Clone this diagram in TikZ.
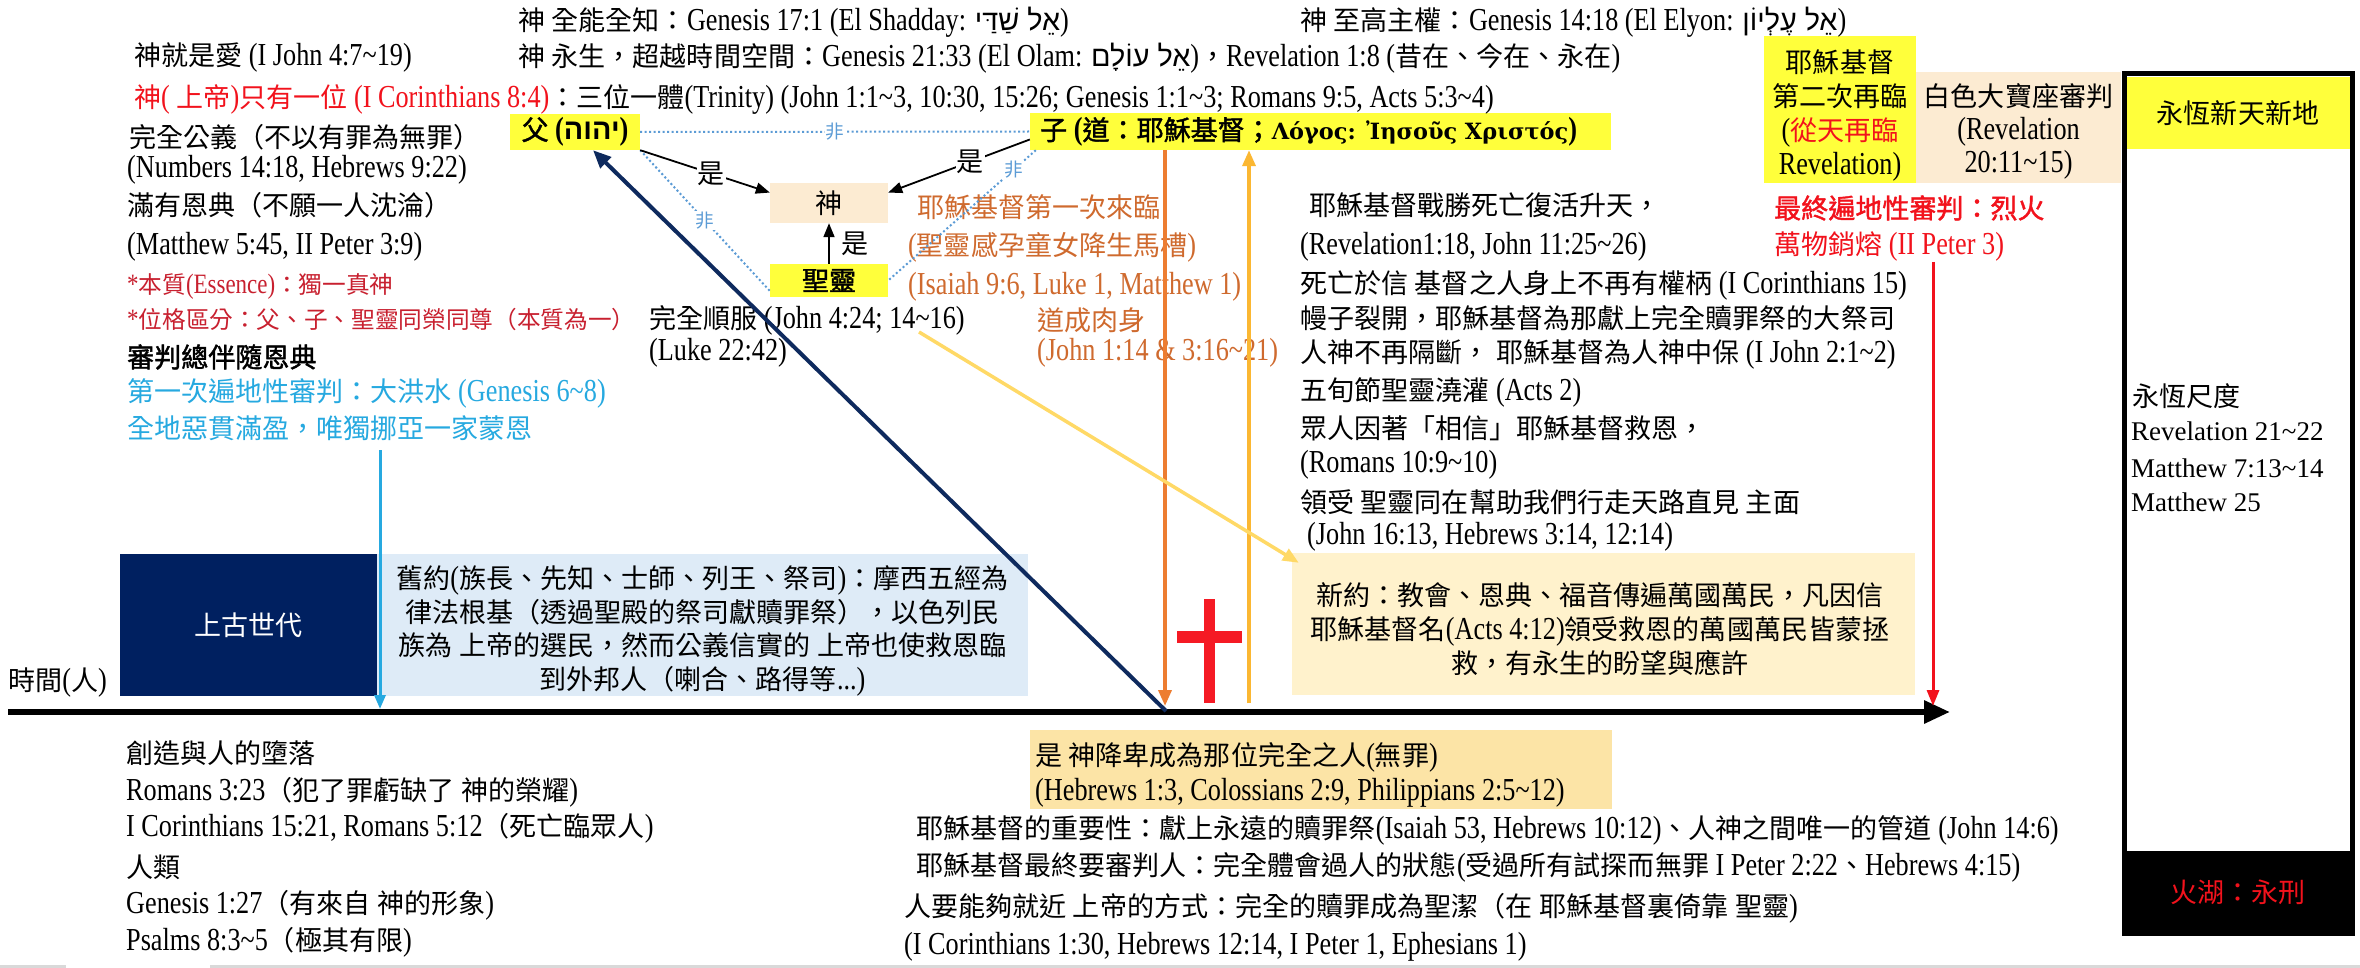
\documentclass[tikz,border=0pt]{standalone}
\usepackage{fontspec}
\usetikzlibrary{arrows.meta,calc}
\setmainfont{Liberation Serif}[FakeStretch=0.82]
\newfontfamily\cjkfont{Noto Sans CJK TC}[Scale=0.845,BoldFont={Noto Sans CJK TC},BoldFeatures={FakeBold=1.5}]
\newfontfamily\hebfont{Liberation Sans}[Script=Hebrew,Scale=0.9]
\newfontfamily\grkfont{DejaVu Serif}[Scale=0.7]
\newfontfamily\wideserif{Liberation Serif}
\TeXXeTstate=1
\makeatletter
\chardef\CJKcls=200
\def\setcjkrange#1#2{\count@=#1\relax\loop\XeTeXcharclass\count@=\CJKcls\advance\count@\@ne\ifnum\count@<#2\repeat}
\setcjkrange{"3000}{"3040}
\setcjkrange{"4E00}{"A000}
\setcjkrange{"FF00}{"FFF0}
\XeTeXinterchartokenstate=1
\XeTeXinterchartoks 0 \CJKcls = {\cjkfont}
\XeTeXinterchartoks 4095 \CJKcls = {\cjkfont}
\XeTeXinterchartoks \CJKcls 0 = {\rmfamily}
\XeTeXinterchartoks \CJKcls 4095 = {\rmfamily}
\makeatother
\newcommand\tld{\char126\relax}
\newcommand\fsN{\fontsize{32}{36}\selectfont}
\newcommand\fsS{\fontsize{28}{32}\selectfont}
\definecolor{yel}{HTML}{FFFF3B}
\definecolor{peach}{HTML}{FCEBD2}
\definecolor{ntbg}{HTML}{FFF2CC}
\definecolor{goldbox}{HTML}{FCE4A6}
\definecolor{navy}{HTML}{002060}
\definecolor{arrnavy}{HTML}{0E2A5E}
\definecolor{otbg}{HTML}{DEEBF7}
\definecolor{red1}{HTML}{F2121C}
\definecolor{dred}{HTML}{C8202F}
\definecolor{sky}{HTML}{26A9E0}
\definecolor{orng}{HTML}{CF6A2E}
\definecolor{orarr}{HTML}{ED7D31}
\definecolor{goldA}{HTML}{FBB732}
\definecolor{goldL}{HTML}{FFD966}
\definecolor{dotblue}{HTML}{5B9BD5}
\definecolor{crossred}{HTML}{F51A24}
\tikzset{
  txtl/.style={anchor=west, inner sep=0pt, font=\fsN},
  txts/.style={anchor=west, inner sep=0pt, font=\fsS},
  boxn/.style={inner sep=0pt, font=\fsN},
  blk/.style={inner sep=0pt},
  darr/.style={-{Triangle[length=14pt,width=11pt]}, line width=1.8pt},
  dotl/.style={dotblue, line width=2pt, dash pattern=on 2pt off 2.5pt},
  fei/.style={fill=white, text=dotblue, inner sep=1pt, font=\fontsize{22}{24}\selectfont},
  shi/.style={fill=white, inner sep=1pt, font=\fsN},
  colarr/.style={line width=3.5pt, -{Triangle[length=16pt,width=13pt]}},
  mfont/.style={anchor=west, inner sep=0pt, font={\fontsize{27}{30}\selectfont\wideserif}},
}
\begin{document}
\begin{tikzpicture}[x=1pt,y=-1pt]
\useasboundingbox (0,0) rectangle (2360,968);
\fill[white] (0,0) rectangle (2360,968);
\draw[gray!30, line width=3pt] (0,966.5) -- (66,966.5) (210,966.5) -- (2360,966.5);

% ---- boxes ----
\node[boxn, fill=yel, minimum width=130pt, minimum height=36pt, font=\fsN\bfseries] (father) at (575,132) {父 ({\hebfont\beginR יהוה\endR})};
\node[blk, fill=yel, minimum width=581pt, minimum height=37pt] (son) at (1320.5,131.5) {};
\node[boxn, fill=peach, minimum width=118pt, minimum height=40pt] (god) at (829,203) {神};
\node[boxn, fill=yel, minimum width=118pt, minimum height=33pt, font=\fsN\bfseries] (spirit) at (829,280.5) {聖靈};
\node[blk, fill=yel, minimum width=152pt, minimum height=147pt] (second) at (1840,109.5) {};
\node[blk, fill=peach, minimum width=205pt, minimum height=111pt] (throne) at (2018.5,127.5) {};
\node[blk, fill=navy, minimum width=257pt, minimum height=142pt, text=white, font=\fsN] (ancient) at (248.5,625) {上古世代};
\node[blk, fill=otbg, minimum width=651pt, minimum height=142pt] (ot) at (702.5,625) {};
\node[blk, fill=ntbg, minimum width=623pt, minimum height=142pt] (nt) at (1603.5,624) {};
\node[blk, fill=goldbox, minimum width=582pt, minimum height=79pt] (humble) at (1321,769.5) {};
% right column
\fill[yel] (2127,77) rectangle (2350,149);
\fill[black] (2122,851) rectangle (2355,935);
\node[blk, draw, line width=5pt, minimum width=228pt, minimum height=859pt] (eternity) at (2238.5,503.5) {};

% ---- top texts ----
\node[txtl] (omni) at (518,22) {神 全能全知：Genesis 17:1 (El Shadday: {\hebfont\beginR אֵל שַׁדַּי\endR})};
\node[txtl] (elyon) at (1300,22) {神 至高主權：Genesis 14:18 (El Elyon: {\hebfont\beginR אֵל עֶלְיוֹן\endR})};
\node[txtl] (eternal) at (518,58) {神 永生，超越時間空間：Genesis 21:33 (El Olam: {\hebfont\beginR אֵל עוֹלָם\endR})，Revelation 1:8 (昔在、今在、永在)};
\node[txtl] (love) at (134,58) {神就是愛 (I John 4:7\tld19)};
\node[txtl] (one) at (134,100) {{\color{red1}神( 上帝)只有一位 (I Corinthians 8:4)}：三位一體(Trinity) (John 1:1\tld3, 10:30, 15:26; Genesis 1:1\tld3; Romans 9:5, Acts 5:3\tld4)};

% ---- left column ----
\node[txtl] (just) at (129,137) {完全公義（不以有罪為無罪）};
\node[txtl] (justref) at (127,170) {(Numbers 14:18, Hebrews 9:22)};
\node[txtl] (grace) at (127,205) {滿有恩典（不願一人沈淪）};
\node[txtl] (graceref) at (127,247) {(Matthew 5:45, II Peter 3:9)};
\node[txts, text=dred] (ess) at (127,287) {*本質(Essence)：獨一真神};
\node[txts, text=dred] (pers) at (127,320) {*位格區分：父、子、聖靈同榮同尊（本質為一）};
\node[txtl, font=\fsN\bfseries] (judge) at (127,357) {審判總伴隨恩典};
\node[txtl, text=sky] (flood) at (127,393) {第一次遍地性審判：大洪水 (Genesis 6\tld8)};
\node[txtl, text=sky] (noah) at (127,428) {全地惡貫滿盈，唯獨挪亞一家蒙恩};

% ---- middle ----
\node[txtl, font=\fsN\bfseries] (sontext) at (1040,132) {子 (道：耶穌基督；{\grkfont Λόγος: Ἰησοῦς Χριστός})};
\node[txtl] (obey) at (649,320) {完全順服 (John 4:24; 14\tld16)};
\node[txtl] (luke) at (649,353) {(Luke 22:42)};
\node[txtl, text=orng] (first) at (917,207) {耶穌基督第一次來臨};
\node[txtl, text=orng] (virgin) at (908,247) {(聖靈感孕童女降生馬槽)};
\node[txtl, text=orng] (isa) at (908,287) {(Isaiah 9:6, Luke 1, Matthew 1)};
\node[txtl, text=orng] (word) at (1037,320) {道成肉身};
\node[txtl, text=orng] (wordref) at (1037,353) {(John 1:14 \& 3:16\tld21)};

% ---- right-middle block ----
\node[txtl] (r1) at (1309,205) {耶穌基督戰勝死亡復活升天，};
\node[txtl] (r2) at (1300,247) {(Revelation1:18, John 11:25\tld26)};
\node[txtl] (r3) at (1300,285) {死亡於信 基督之人身上不再有權柄 (I Corinthians 15)};
\node[txtl] (r4) at (1300,318) {幔子裂開，耶穌基督為那獻上完全贖罪祭的大祭司};
\node[txtl] (r5) at (1300,355) {人神不再隔斷， 耶穌基督為人神中保 (I John 2:1\tld2)};
\node[txtl] (r6) at (1300,392) {五旬節聖靈澆灌 (Acts 2)};
\node[txtl] (r7) at (1300,428) {眾人因著「相信」耶穌基督救恩，};
\node[txtl] (r8) at (1300,465) {(Romans 10:9\tld10)};
\node[txtl] (r9) at (1300,502) {領受 聖靈同在幫助我們行走天路直見 主面};
\node[txtl] (r10) at (1307,537) {(John 16:13, Hebrews 3:14, 12:14)};

% ---- top right ----
\node[boxn, align=center, font=\fontsize{32}{34}\selectfont] (secondtext) at (1840,116) {耶穌基督\\第二次再臨\\({\color{red1}從天再臨}\\Revelation)};
\node[boxn, align=center, font=\fontsize{32}{33}\selectfont] (thronetext) at (2018.5,131) {白色大寶座審判\\(Revelation\\20:11\tld15)};
\node[txtl, text=red1, font=\fsN\bfseries] (final) at (1774,208) {最終遍地性審判：烈火};
\node[txtl, text=red1] (melt) at (1774,247) {萬物銷熔 (II Peter 3)};
\node[boxn] (newearth) at (2238,113) {永恆新天新地};
\node[boxn, text=red1] (lake) at (2238,892) {火湖：永刑};
\node[txtl] (measure) at (2132,396) {永恆尺度};
\node[mfont] (m1) at (2131,431) {Revelation 21\tld22};
\node[mfont] (m2) at (2131,468) {Matthew 7:13\tld14};
\node[mfont] (m3) at (2131,502) {Matthew 25};

% ---- bottom boxes text ----
\node[boxn, align=center, font=\fontsize{32}{33.5}\selectfont] (ottext) at (702.5,631) {舊約(族長、先知、士師、列王、祭司)：摩西五經為\\律法根基（透過聖殿的祭司獻贖罪祭），以色列民\\族為 上帝的選民，然而公義信實的 上帝也使救恩臨\\到外邦人（喇合、路得等...)};
\node[boxn, align=center, font=\fontsize{32}{34}\selectfont] (nttext) at (1600,629) {新約：教會、恩典、福音傳遍萬國萬民，凡因信\\耶穌基督名(Acts 4:12)領受救恩的萬國萬民皆蒙拯\\救，有永生的盼望與應許};
\node[txtl] (time) at (8,683) {時間(人)};
\node[txtl] (h1) at (1035,757) {是 神降卑成為那位完全之人(無罪)};
\node[txtl] (h2) at (1035,793) {(Hebrews 1:3, Colossians 2:9, Philippians 2:5\tld12)};

% ---- bottom texts ----
\node[txtl] (b1) at (126,753) {創造與人的墮落};
\node[txtl] (b2) at (126,792) {Romans 3:23（犯了罪虧缺了 神的榮耀)};
\node[txtl] (b3) at (126,828) {I Corinthians 15:21, Romans 5:12（死亡臨眾人)};
\node[txtl] (b4) at (126,867) {人類};
\node[txtl] (b5) at (126,905) {Genesis 1:27（有來自 神的形象)};
\node[txtl] (b6) at (126,942) {Psalms 8:3\tld5（極其有限)};
\node[txtl] (c1) at (916,830) {耶穌基督的重要性：獻上永遠的贖罪祭(Isaiah 53, Hebrews 10:12)、人神之間唯一的管道 (John 14:6)};
\node[txtl] (c2) at (916,867) {耶穌基督最終要審判人：完全體會過人的狀態(受過所有試探而無罪 I Peter 2:22、Hebrews 4:15)};
\node[txtl] (c3) at (904,908) {人要能夠就近 上帝的方式：完全的贖罪成為聖潔（在 耶穌基督裏倚靠 聖靈)};
\node[txtl] (c4) at (904,947) {(I Corinthians 1:30, Hebrews 12:14, I Peter 1, Ephesians 1)};

% ---- coordinates ----
\coordinate (tl0) at (8,712);
\coordinate (tl1) at (1950,712);
\coordinate (navyfoot) at (1166,711);
\coordinate (orangefoot) at (1165,706);
\coordinate (goldfoot) at (1249,703);
\coordinate (redtop) at (1933,262);
\coordinate (redfoot) at (1933,706);
\coordinate (floodtop) at (380,450);
\coordinate (floodfoot) at (380,709);
\coordinate (obeyend) at (919,332);

% ---- relations ----
\draw[dotl] (father.east) -- (son.west) node[midway, fei] {非};
\draw[dotl] (father.south east) -- (spirit.190) node[pos=.5, fei] {非};
\draw[dotl] ($(son.south west)+(6,0)$) -- (spirit.east) node[pos=.15, fei] {非};
\draw[darr] (father.south east) -- (god.170) node[pos=.55, shi] {是};
\draw[darr] ($(son.west)+(0,8)$) -- (god.10) node[pos=.42, shi] {是};
\draw[darr] (spirit.north) -- (god.south) node[midway, right=12pt, inner sep=0pt, font=\fsN] {是};

% ---- timeline & arrows ----
\draw[line width=6pt, -{Triangle[length=26pt,width=22pt]}] (tl0) -- (tl1);
\draw[arrnavy, line width=4pt, -{Triangle[length=18pt,width=15pt]}] (navyfoot) -- ($(father.south)+(18,0)$);
\draw[orarr, colarr] (orangefoot |- son.south) -- (orangefoot);
\draw[goldA, colarr] (goldfoot) -- (goldfoot |- son.south);
\draw[goldL, colarr] (obeyend) -- ($(nt.north west)+(7,10)$);
\draw[red1, line width=3pt, -{Triangle[length=16pt,width=12pt]}] (redtop) -- (redfoot);
\draw[sky, line width=3pt, -{Triangle[length=14pt,width=11pt]}] (floodtop) -- (floodfoot);
% cross
\fill[crossred] (1204,599) rectangle (1215,703);
\fill[crossred] (1177,631) rectangle (1242,643);
\end{tikzpicture}
\end{document}
